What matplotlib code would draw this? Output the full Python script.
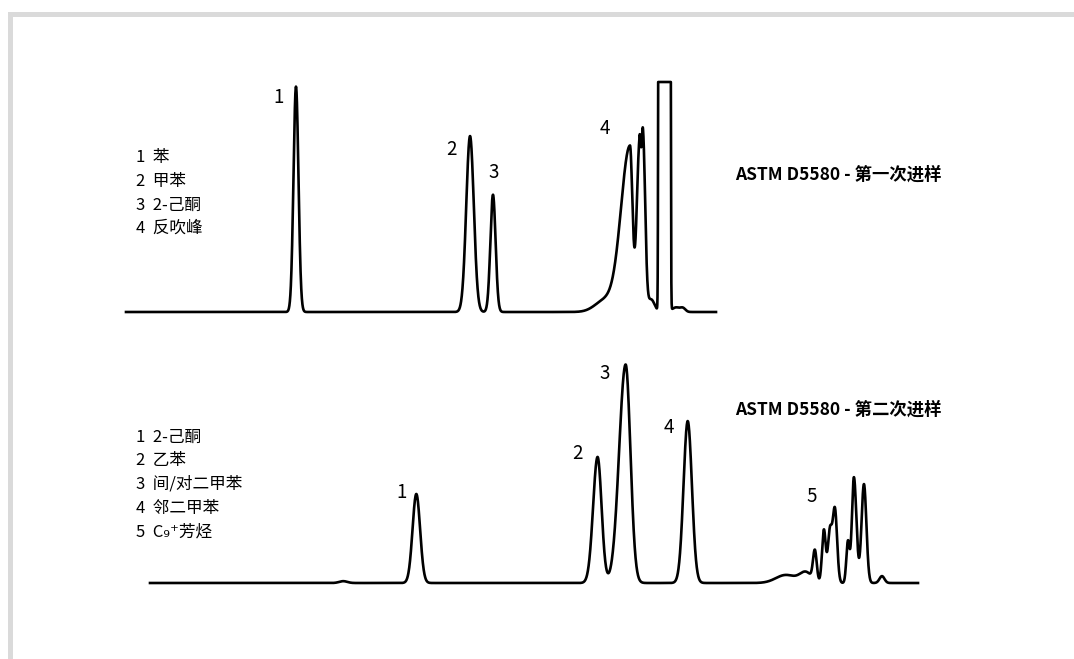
import numpy as np
import matplotlib
matplotlib.use("Agg")
import matplotlib.pyplot as plt
from matplotlib.patches import Rectangle

plt.rcParams['font.family'] = ['Noto Sans CJK SC', 'DejaVu Sans']

# first injection: retention time (min), height (% full scale), sigma left/right (min)
run1_time = [2.881, 5.831, 6.220, 8.119, 8.542, 8.703, 8.763, 8.898, 9.127, 9.322, 9.441]
run1_height = [98, 76.5, 51, 5, 72, 72, 75, 5.5, 2.5e8, 2, 1.5]
run1_sig_l = [0.042, 0.064, 0.044, 0.169, 0.153, 0.047, 0.025, 0.060, 0.020, 0.068, 0.042]
run1_sig_r = [0.042, 0.064, 0.044, 0.169, 0.042, 0.025, 0.037, 0.060, 0.020, 0.068, 0.042]
run1_end = 10.0
run1_names = ['苯', '甲苯', '2-己酮', '反吹峰']
run1_label_peak = [0, 1, 2, 4]

# second injection
run2_time = [3.271, 4.508, 7.576, 8.051, 9.102, 10.763, 11.102, 11.254, 11.407,
             11.508, 11.593, 11.814, 11.915, 12.085, 12.390]
run2_height = [0.8, 38.7, 54.8, 95, 70.4, 3.5, 4.5, 13, 23, 22, 32, 18, 46, 43, 3]
run2_sig_l = [0.068, 0.064, 0.076, 0.110, 0.071, 0.169, 0.102, 0.031, 0.031,
              0.034, 0.037, 0.027, 0.034, 0.041, 0.042]
run2_sig_r = [0.068, 0.064, 0.068, 0.081, 0.071, 0.169, 0.102, 0.031, 0.031,
              0.034, 0.037, 0.027, 0.042, 0.041, 0.042]
run2_end = 13.0
run2_names = ['2-己酮', '乙苯', '间/对二甲苯', '邻二甲苯', 'C₉⁺芳烃']
run2_label_peak = [1, 2, 3, 4, 10]

full_scale = 100


def trace(t, times, heights, sl, sr):
    s = np.zeros_like(t)
    for t0, h, a, b in zip(times, heights, sl, sr):
        sig = np.where(t < t0, a, b)
        s += h * np.exp(-0.5 * ((t - t0) / sig) ** 2)
    return np.minimum(s, full_scale)


W, H = 1074, 659
fig = plt.figure(figsize=(W / 100, H / 100), dpi=100)

# grey frame top/left
fig.add_artist(Rectangle((8 / W, 1 - 17 / H), 1, 5 / H, transform=fig.transFigure,
                         color='#dadada', lw=0))
fig.add_artist(Rectangle((8 / W, 0), 5 / W, 1 - 12 / H, transform=fig.transFigure,
                         color='#dadada', lw=0))


def px_axes(x0, x1, base, top):
    return fig.add_axes([x0 / W, 1 - base / H, (x1 - x0) / W, (base - top) / H])


def draw_run(ax, times, heights, sl, sr, t_end, label_peak, offsets):
    t = np.linspace(0, t_end, 6000)
    ax.plot(t, trace(t, times, heights, sl, sr), color='black', lw=1.9,
            clip_on=False, solid_joinstyle='round')
    ax.set_xlim(0, t_end)
    ax.set_ylim(0, full_scale)
    ax.axis('off')
    for i, (p, off) in enumerate(zip(label_peak, offsets)):
        ax.annotate(str(i + 1), xy=(times[p], min(heights[p], full_scale)),
                    xytext=off, textcoords='offset pixels', ha='center', va='center',
                    fontsize=13.5)


def legend(names, x, y0, step):
    for i, n in enumerate(names):
        fig.text(x / W, 1 - (y0 + i * step) / H, f'{i + 1}  {n}', ha='left', va='center',
                 fontsize=12)


ax1 = px_axes(126, 716, 312, 82)
draw_run(ax1, run1_time, run1_height, run1_sig_l, run1_sig_r, run1_end, run1_label_peak,
         [(-17, -11), (-19, -13), (1, 22), (-25, 18)])
legend(run1_names, 136, 158, 23.5)
fig.text(735 / W, 1 - 175 / H, 'ASTM D5580 - 第一次进样', ha='left', va='center',
         fontsize=12.5, fontweight='bold')

ax2 = px_axes(150, 918, 583, 353)
draw_run(ax2, run2_time, run2_height, run2_sig_l, run2_sig_r, run2_end, run2_label_peak,
         [(-15, 1), (-20, 3), (-21, -9), (-19, -6), (-23, 13)])
legend(run2_names, 136, 437, 23.7)
fig.text(735 / W, 1 - 410 / H, 'ASTM D5580 - 第二次进样', ha='left', va='center',
         fontsize=12.5, fontweight='bold')

fig.savefig('out.png', dpi=100)
